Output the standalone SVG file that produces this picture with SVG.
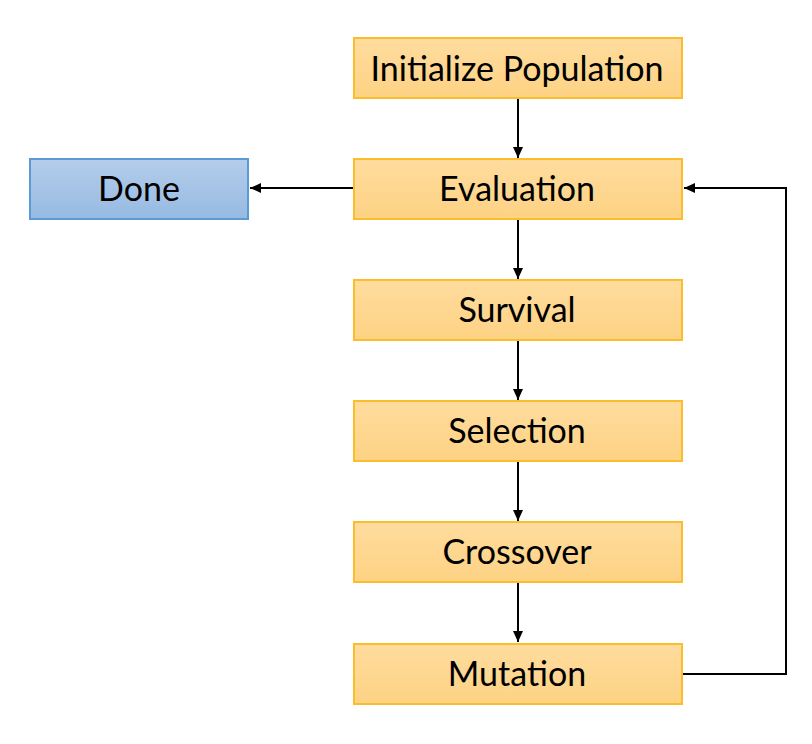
<svg xmlns="http://www.w3.org/2000/svg" width="812" height="744" viewBox="0 0 812 744">
<defs>
<linearGradient id="og" x1="0" y1="0" x2="0" y2="1">
<stop offset="0" stop-color="#FFDC9E"/>
<stop offset="1" stop-color="#FDD283"/>
</linearGradient>
<linearGradient id="bg" x1="0" y1="0" x2="0" y2="1">
<stop offset="0" stop-color="#B4CDEA"/>
<stop offset="1" stop-color="#97BAE2"/>
</linearGradient>
<marker id="ah" markerWidth="12" markerHeight="10" refX="11" refY="5" orient="auto" markerUnits="userSpaceOnUse">
<path d="M0,0 L11,5 L0,10 Z" fill="#000"/>
</marker>
</defs>
<style>
.o{fill:url(#og);stroke:#FBBD2B;stroke-width:2}
.b{fill:url(#bg);stroke:#5B9BD5;stroke-width:2}
text{font-family:"Lato","Open Sans",sans-serif;font-size:34px;fill:#000;text-anchor:middle;dominant-baseline:central}
.c{fill:none;stroke:#000;stroke-width:2}
</style>
<rect width="812" height="744" fill="#fff"/>
<g id="connectors">
<line class="c" x1="518" y1="99" x2="518" y2="158" marker-end="url(#ah)"/>
<line class="c" x1="518" y1="220" x2="518" y2="279" marker-end="url(#ah)"/>
<line class="c" x1="518" y1="341" x2="518" y2="400" marker-end="url(#ah)"/>
<line class="c" x1="518" y1="462" x2="518" y2="521" marker-end="url(#ah)"/>
<line class="c" x1="518" y1="583" x2="518" y2="642" marker-end="url(#ah)"/>
<line class="c" x1="354" y1="188" x2="250" y2="188" marker-end="url(#ah)"/>
<polyline class="c" points="683,674 786,674 786,188 684,188" marker-end="url(#ah)"/>
</g>
<g id="init"><rect class="o" x="354" y="38" width="328" height="60"/><text x="517" y="67">Initialize Population</text></g>
<g id="eval"><rect class="o" x="354" y="159" width="328" height="60"/><text x="517" y="187">Evaluation</text></g>
<g id="surv"><rect class="o" x="354" y="280" width="328" height="60"/><text x="517" y="308">Survival</text></g>
<g id="sel"><rect class="o" x="354" y="401" width="328" height="60"/><text x="517" y="429">Selection</text></g>
<g id="cross"><rect class="o" x="354" y="522" width="328" height="60"/><text x="517" y="550">Crossover</text></g>
<g id="mut"><rect class="o" x="354" y="644" width="328" height="60"/><text x="517" y="672">Mutation</text></g>
<g id="done"><rect class="b" x="30" y="159" width="218" height="60"/><text x="139" y="187">Done</text></g>
</svg>
